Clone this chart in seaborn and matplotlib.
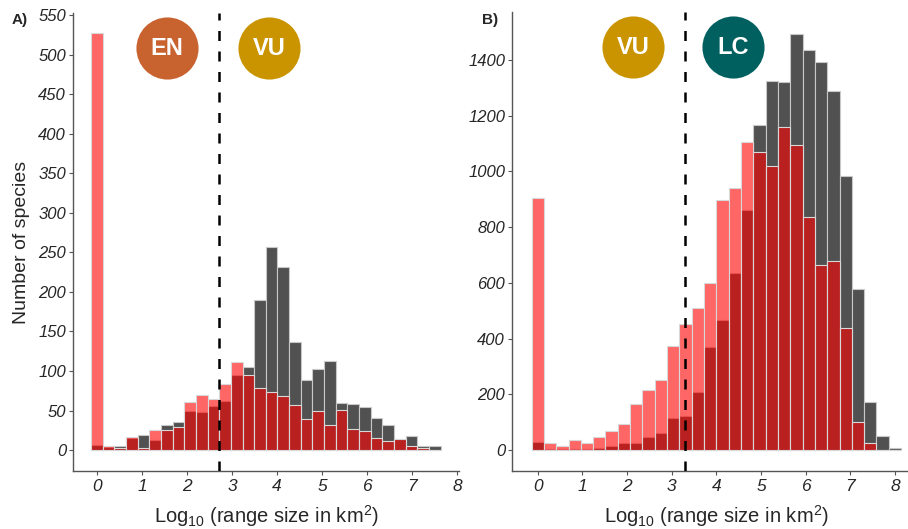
import numpy as np
import pandas as pd
import matplotlib
matplotlib.use("Agg")
import matplotlib.pyplot as plt
import seaborn as sns

# ---------------- data ----------------
# Panel A: 30 bins spanning log10 range 0 .. 7.5 (bin centres)
a_range = (0.0, 7.5)
a_grey = [7, 4, 5, 15, 19, 13, 32, 35, 49, 48, 56, 62, 95, 105, 190, 257, 232, 137,
          89, 103, 113, 60, 58, 54, 40, 32, 14, 18, 5, 5]
a_red = [527, 5, 3, 17, 3, 25, 25, 29, 61, 69, 64, 83, 111, 95, 79, 73, 68, 57,
         39, 49, 32, 51, 27, 24, 15, 12, 14, 5, 3, 0]
a_threshold = 2.7
a_badges = ["EN", "VU"]

# Panel B: 30 bins spanning log10 range 0 .. 8.0 (bin centres)
b_range = (0.0, 8.0)
b_grey = [30, 4, 3, 3, 3, 6, 16, 24, 26, 48, 60, 116, 122, 207, 370, 466, 636, 860,
          1167, 1325, 1322, 1493, 1436, 1391, 1287, 985, 578, 171, 51, 6]
b_red = [905, 24, 16, 36, 26, 48, 69, 93, 165, 217, 251, 374, 454, 511, 601, 898, 941,
         1104, 1069, 1021, 1158, 1095, 836, 663, 678, 438, 101, 27, 0, 0]
b_threshold = 3.3
b_badges = ["VU", "LC"]

n_bins = 30
x_ticks = [0, 1, 2, 3, 4, 5, 6, 7, 8]
a_yticks = list(range(0, 551, 50))
b_yticks = list(range(0, 1401, 200))

badge_colors = {"EN": "#C8622F", "VU": "#C99400", "LC": "#005F5F"}

# ---------------- style ----------------
sns.set_theme(style="white")
plt.rcParams["font.family"] = ["Liberation Sans", "DejaVu Sans"]
plt.rcParams["mathtext.fontset"] = "custom"
plt.rcParams["mathtext.rm"] = "Liberation Sans"
plt.rcParams["mathtext.it"] = "Liberation Sans:italic"

fig = plt.figure(figsize=(9.08, 5.29), dpi=100)
axA = fig.add_axes([0.0804, 0.1096, 0.4251, 0.8658])
axB = fig.add_axes([0.5639, 0.1096, 0.4493, 0.8677])


def panel(ax, rng, grey, red, thr, badges, badge_x, xlim, ylim, yticks, label, label_x):
    w = (rng[1] - rng[0]) / (n_bins - 1)
    centres = rng[0] + w * np.arange(n_bins)
    lo, hi = centres[0] - w / 2, centres[-1] + w / 2
    df = pd.DataFrame({"x": centres, "grey": grey, "red": red})
    sns.histplot(data=df, x="x", weights="grey", binwidth=w, binrange=(lo, hi),
                 color="#333333", alpha=0.85, edgecolor="#c8c8c8", linewidth=0.8, ax=ax)
    sns.histplot(data=df, x="x", weights="red", binwidth=w, binrange=(lo, hi),
                 color="#FF0000", alpha=0.6, edgecolor="#d8d8d8", linewidth=0.8, ax=ax)
    ax.axvline(thr, color="black", lw=1.8, dashes=(4.0, 4.2), zorder=5)
    ax.set_xlim(*xlim)
    ax.set_ylim(*ylim)
    ax.set_xticks(x_ticks)
    ax.set_yticks(yticks)
    ax.set_xticklabels([str(t) for t in x_ticks], fontsize=12.5, style="italic")
    ax.set_yticklabels([str(t) for t in yticks], fontsize=12, style="italic")
    for s in ["top", "right"]:
        ax.spines[s].set_visible(False)
    for s in ["left", "bottom"]:
        ax.spines[s].set_color("#555555")
        ax.spines[s].set_linewidth(1.0)
    ax.tick_params(axis="both", which="both", length=3, width=0.8, color="#555555",
                   direction="out", left=True, bottom=True, pad=2)
    ax.tick_params(axis="x", pad=3)
    ax.set_xlabel(r"Log$_{10}$ (range size in km$^{2}$)", fontsize=14.5, labelpad=6)
    ax.set_ylabel("")
    for bx, name in zip(badge_x, badges):
        ax.scatter([bx], [0.924], s=2000, color=badge_colors[name],
                   transform=ax.transAxes, clip_on=False, zorder=6, linewidths=0)
        ax.text(bx, 0.922, name, transform=ax.transAxes, ha="center", va="center",
                color="white", fontsize=17, fontweight="bold", zorder=7)
    fig.text(label_x, 0.962, label, fontsize=11, fontweight="bold", ha="left", va="center")


panel(axA, a_range, a_grey, a_red, a_threshold, a_badges, [0.2435, 0.508],
      (-0.533, 8.04), (-26.5, 552.5), a_yticks, "A)", 0.013)
panel(axB, b_range, b_grey, b_red, b_threshold, b_badges, [0.297, 0.542],
      (-0.575, 8.56), (-75, 1572), b_yticks, "B)", 0.531)

axA.set_ylabel("Number of species", fontsize=14, labelpad=6)

fig.savefig("out.png", dpi=100)
